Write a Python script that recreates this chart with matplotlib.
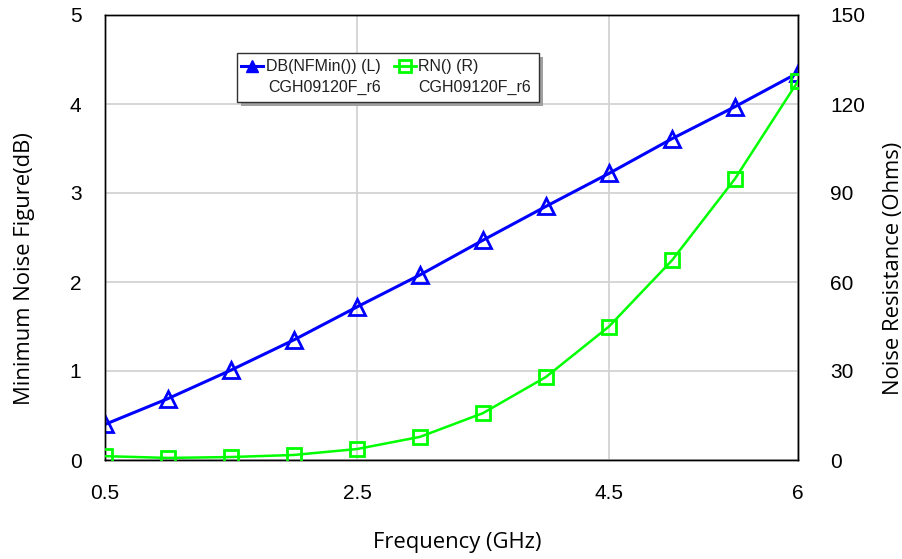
import numpy as np
import matplotlib.pyplot as plt
from matplotlib.patches import Rectangle
from matplotlib.lines import Line2D

freq = [0.5, 1.0, 1.5, 2.0, 2.5, 3.0, 3.5, 4.0, 4.5, 5.0, 5.5, 6.0]
nfmin = [0.40, 0.69, 1.01, 1.35, 1.72, 2.08, 2.47, 2.85, 3.22, 3.61, 3.97, 4.35]
rn = [1.3, 0.7, 1.0, 1.7, 3.7, 7.8, 15.8, 28.0, 45.0, 67.3, 94.8, 127.7]

xticks = [0.5, 2.5, 4.5, 6]
xticklabels = ['0.5', '2.5', '4.5', '6']

tick_font = 'Liberation Sans'
label_font = 'Open Sans'

fig = plt.figure(figsize=(9.03, 5.59), dpi=100)
ax = fig.add_axes([105/903, 1 - 460/559, 693/903, 445/559])
ax2 = ax.twinx()

ax.plot(freq, nfmin, color='#0000ff', lw=2.2, marker='^', ms=11, mfc='none',
        mec='#0000ff', mew=2, zorder=3)
ax2.plot(freq, rn, color='#00ff00', lw=1.8, marker='s', ms=10, mfc='none',
         mec='#00ff00', mew=2, zorder=3)

ax.set_xlim(0.5, 6)
ax.set_ylim(0, 5)
ax2.set_ylim(0, 150)
ax.set_xticks(xticks)
ax.set_xticklabels(xticklabels)
ax.set_yticks([0, 1, 2, 3, 4, 5])
ax2.set_yticks([0, 30, 60, 90, 120, 150])

ax.grid(True, color='#d0d0d0', lw=1.2)
ax.set_axisbelow(True)

for a in (ax, ax2):
    a.tick_params(length=0, labelsize=15)
    for lab in a.get_xticklabels() + a.get_yticklabels():
        lab.set_fontfamily(tick_font)
    for s in a.spines.values():
        s.set_color('black')
        s.set_linewidth(1)
ax.tick_params(axis='y', pad=17)
ax.tick_params(axis='x', pad=17)
ax2.tick_params(axis='y', pad=23)

ax.set_xlabel('Frequency (GHz)', fontfamily=label_font, fontsize=15.8, labelpad=21)
ax.set_ylabel('Minimum Noise Figure(dB)', fontfamily=label_font, fontsize=15.8, labelpad=25)
ax2.set_ylabel('Noise Resistance (Ohms)', fontfamily=label_font, fontsize=15.8,
               labelpad=13, rotation=90)
# the labels sit a little off the axes centre in the original
ax.xaxis.label.set_x(0.509)
ax.yaxis.label.set_y(0.43)
ax2.yaxis.label.set_y(0.43)

# legend box drawn by hand, in pixel-ish figure coordinates
def fx(px):
    return px / 903

def fy(py):
    return 1 - py / 559

shadow = Rectangle((fx(241), fy(106)), fx(302), 49/559, transform=fig.transFigure,
                   facecolor='#a0a0a0', edgecolor='none', zorder=9)
box = Rectangle((fx(237), fy(102)), fx(302), 49/559, transform=fig.transFigure,
                facecolor='white', edgecolor='#303030', lw=1, zorder=10)
fig.add_artist(shadow)
fig.add_artist(box)

fig.add_artist(Line2D([fx(241), fx(263)], [fy(66), fy(66)], transform=fig.transFigure,
                      color='#0000ff', lw=2.2, zorder=11))
fig.add_artist(Line2D([fx(252)], [fy(66)], transform=fig.transFigure, color='#0000ff',
                      marker='^', ms=8, mfc='#0000ff', mec='#0000ff', zorder=11))
fig.add_artist(Line2D([fx(394), fx(416)], [fy(66), fy(66)], transform=fig.transFigure,
                      color='#00ff00', lw=2, zorder=11))
fig.add_artist(Line2D([fx(405)], [fy(66)], transform=fig.transFigure, color='#00ff00',
                      marker='s', ms=8, mfc='none', mec='#00ff00', mew=2, zorder=11))

leg_kw = dict(fontfamily=tick_font, fontsize=11.5, color='#202020', va='center',
              ha='left', zorder=12)
fig.text(fx(266), fy(66), 'DB(NFMin()) (L)', **leg_kw)
fig.text(fx(268), fy(87), 'CGH09120F_r6', **leg_kw)
fig.text(fx(418), fy(66), 'RN() (R)', **leg_kw)
fig.text(fx(418), fy(87), 'CGH09120F_r6', **leg_kw)

fig.savefig('out.png', dpi=100)
